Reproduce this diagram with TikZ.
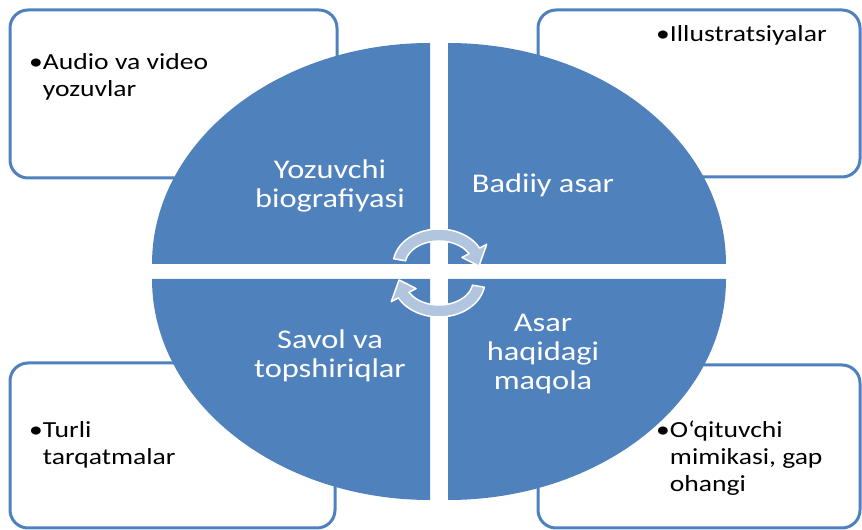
\documentclass[tikz,border=0pt]{standalone}
\usepackage{fontspec}
\setmainfont{Carlito}[FakeStretch=1.2]
\usepackage{tikz}
\usetikzlibrary{shapes,calc,positioning}
\definecolor{OfficeBlue}{RGB}{79,129,189}
\definecolor{CycleFill}{RGB}{178,197,222}

\begin{document}
\begin{tikzpicture}[x=1pt,y=1pt]
	\tikzstyle{Box}		= [draw=OfficeBlue, line width=3pt, rounded corners=18pt, fill=white, inner sep=0pt]
	\tikzstyle{Item}	= [anchor=base west, inner sep=0pt, font=\fontsize{23}{27}\selectfont]
	\tikzstyle{Quarter}	= [fill=OfficeBlue]
	\tikzstyle{Label}	= [anchor=base, align=center, inner sep=0pt, text=white, font=\fontsize{27}{29}\selectfont]
	\tikzstyle{Cycle}	= [fill=CycleFill, draw=white, line width=1.5pt, line join=round]

	\useasboundingbox (0,0) rectangle (862,530);

	% corner boxes
	\node (bA) at (173.5,436) [Box, minimum width=327, minimum height=168] {};
	\node (bB) at (699,436.5) [Box, minimum width=322, minimum height=167] {};
	\node (bC) at (172.5,84.5) [Box, minimum width=325, minimum height=165] {};
	\node (bD) at (699,83.5) [Box, minimum width=322, minimum height=163] {};

	\node (tA) at (29,460) [Item] {\textbullet\parbox[t]{200pt}{Audio va video\\yozuvlar}};
	\node (tB) at (656,488) [Item] {\textbullet\parbox[t]{190pt}{Illustratsiyalar}};
	\node (tC) at (29,92) [Item] {\textbullet\parbox[t]{200pt}{Turli\\tarqatmalar}};
	\node (tD) at (656,92) [Item] {\textbullet\parbox[t]{190pt}{O‘qituvchi\\mimikasi, gap\\ohangi}};

	% quarters
	\fill [Quarter] (430,266) -- (152,266) arc [start angle=180, end angle=90, x radius=278, y radius=221] -- cycle;
	\fill [Quarter] (448,266) -- (726,266) arc [start angle=0, end angle=90, x radius=278, y radius=221] -- cycle;
	\fill [Quarter] (430,251) -- (152,251) arc [start angle=180, end angle=270, x radius=278, y radius=221] -- cycle;
	\fill [Quarter] (448,251) -- (726,251) arc [start angle=0, end angle=-90, x radius=278, y radius=221] -- cycle;

	% base anchor sits on the last line
	\node (qA) at (330,322) [Label] {Yozuvchi\\biografiyasi};
	\node (qB) at (543,337) [Label] {Badiiy asar};
	\node (qC) at (330,152) [Label] {Savol va\\topshiriqlar};
	\node (qD) at (543,140) [Label] {Asar\\haqidagi\\maqola};

	% cycle arrows
	\coordinate (ua) at (439,265);
	\coordinate (la) at (439,249);
	\draw [Cycle] ($(ua)+(170:46 and 36)$) arc [start angle=170, end angle=28, x radius=46, y radius=36]
		-- ($(ua)+(28:54 and 44)$) -- ($(ua)+(-2:40 and 30)$) -- ($(ua)+(28:26 and 16)$)
		-- ($(ua)+(28:34 and 24)$) arc [start angle=28, end angle=170, x radius=34, y radius=24] -- cycle;
	\draw [Cycle] ($(la)+(350:46 and 36)$) arc [start angle=350, end angle=208, x radius=46, y radius=36]
		-- ($(la)+(208:54 and 44)$) -- ($(la)+(178:40 and 30)$) -- ($(la)+(208:26 and 16)$)
		-- ($(la)+(208:34 and 24)$) arc [start angle=208, end angle=350, x radius=34, y radius=24] -- cycle;
\end{tikzpicture}
\end{document}
